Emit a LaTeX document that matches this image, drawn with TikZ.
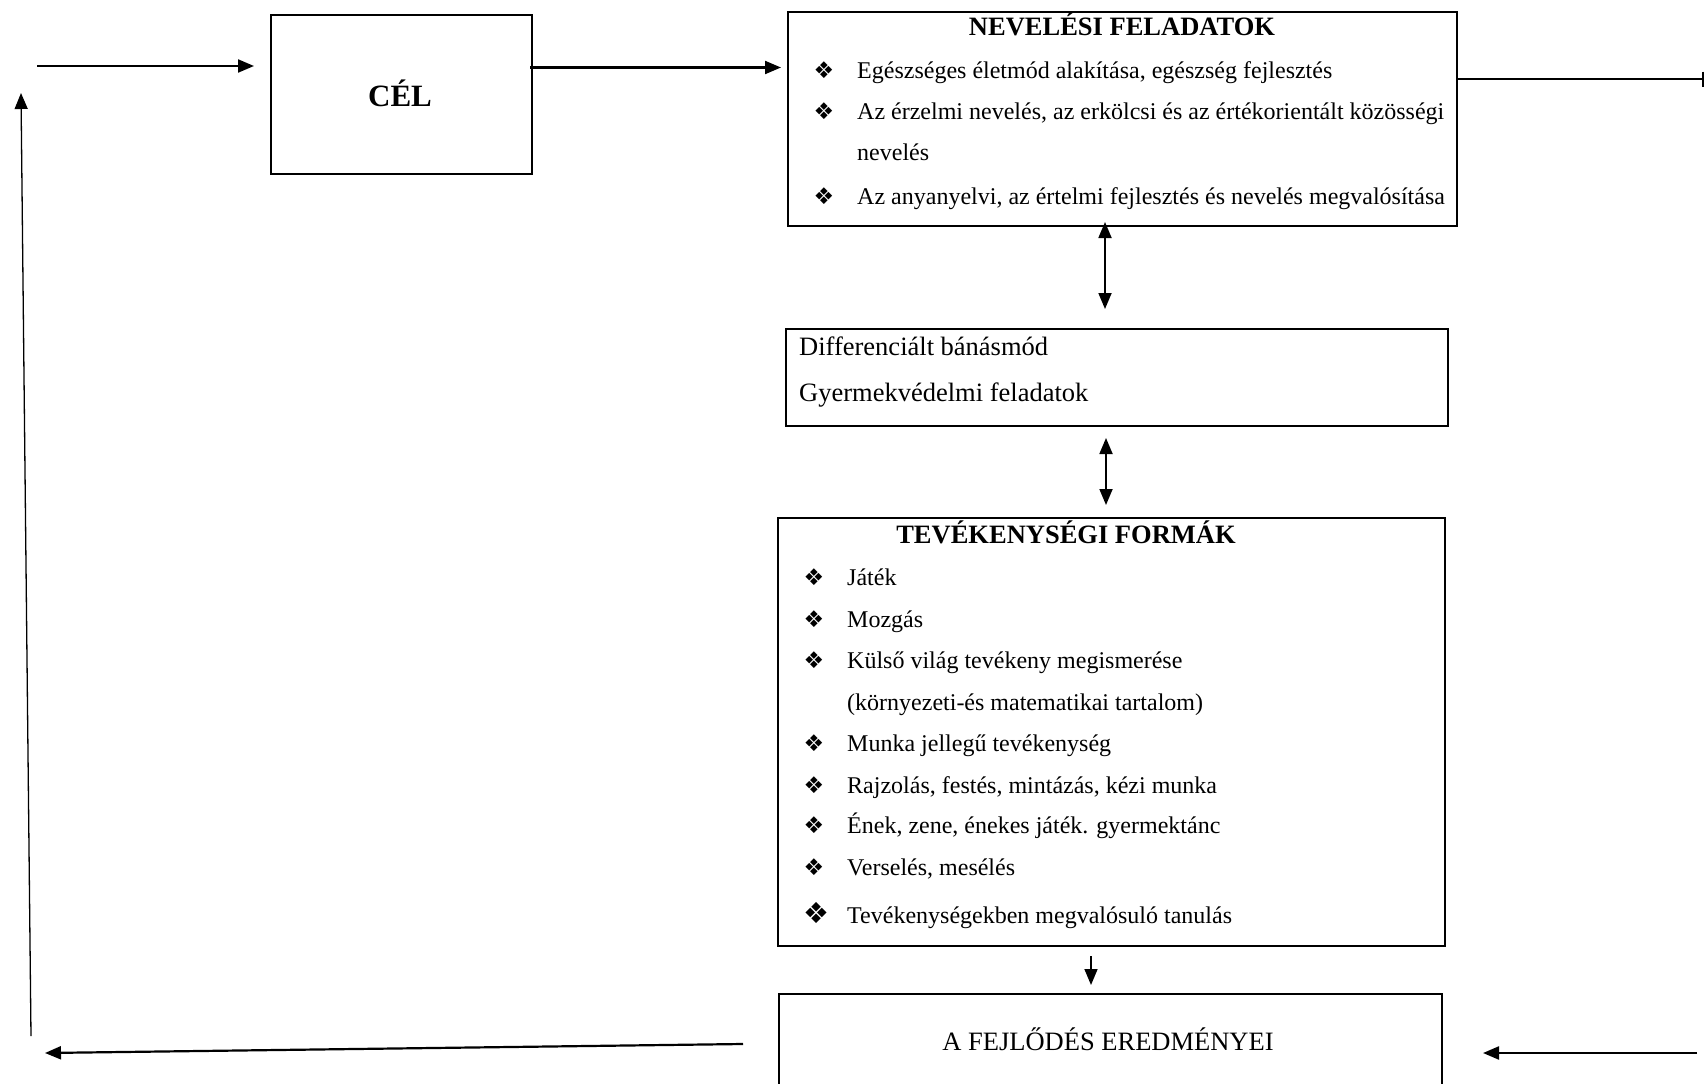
\documentclass[tikz,border=0pt]{standalone}
\usepackage{fontspec}
\setmainfont{Liberation Serif}
\newfontfamily\dejavu{DejaVu Sans}
\usetikzlibrary{arrows.meta,calc}
\newcommand{\bodyfont}{\fontsize{26.5}{30}\selectfont}
\newcommand{\itemfont}{\fontsize{24}{28}\selectfont}
\tikzset{
  box/.style={draw, line width=2pt, rectangle, inner sep=0pt, anchor=north west},
  txt/.style={anchor=base west, inner sep=0pt, font=\bodyfont},
  itm/.style={anchor=base west, inner sep=0pt, font=\itemfont},
  ttl/.style={anchor=base, inner sep=0pt, font=\bodyfont\bfseries},
  bul/.style={inner sep=0pt, font=\dejavu\fontsize{23}{23}\selectfont},
  bigbul/.style={inner sep=0pt, font=\dejavu\fontsize{29}{29}\selectfont},
  arr/.style={-{Triangle[length=16pt,width=13pt]}, line width=2.2pt},
  thinarr/.style={-{Triangle[length=16pt,width=13pt]}, line width=1.3pt},
  darr/.style={{Triangle[length=16pt,width=13pt]}-{Triangle[length=16pt,width=13pt]}, line width=1.8pt},
}
\begin{document}
\begin{tikzpicture}[x=1pt,y=-1pt]
\useasboundingbox (0,0) rectangle (1706,1084);
\clip (0,0) rectangle (1706,1084);

% boxes
\node[box, minimum width=261pt, minimum height=159pt] (cel) at (270,14) {};
\node[font=\fontsize{31}{34}\selectfont\bfseries, anchor=base, inner sep=0pt] (celt) at (400,106) {CÉL};

\node[box, minimum width=669pt, minimum height=214pt] (nev) at (787,11) {};
\node[ttl] (nevt) at (1122,35) {NEVELÉSI FELADATOK};
\node[bul] (nb1) at (824,70) {❖};
\node[itm] (n1) at (857,78) {Egészséges életmód alakítása, egészség fejlesztés};
\node[bul] (nb2) at (824,111) {❖};
\node[itm] (n2) at (857,119) {Az érzelmi nevelés, az erkölcsi és az értékorientált közösségi};
\node[itm] (n3) at (857,160) {nevelés};
\node[bul] (nb4) at (824,196) {❖};
\node[itm] (n4) at (857,204) {Az anyanyelvi, az értelmi fejlesztés és nevelés megvalósítása};

\node[box, minimum width=662pt, minimum height=97pt] (dif) at (785,328) {};
\node[txt] (d1) at (799,355) {Differenciált bánásmód};
\node[txt] (d2) at (799,401) {Gyermekvédelmi feladatok};

\node[box, minimum width=667pt, minimum height=428pt] (tev) at (777,517) {};
\node[ttl] (tevt) at (1066,543) {TEVÉKENYSÉGI FORMÁK};
\node[bul] (tb1) at (814,577) {❖};
\node[itm] (t1) at (847,585) {Játék};
\node[bul] (tb2) at (814,619) {❖};
\node[itm] (t2) at (847,627) {Mozgás};
\node[bul] (tb3) at (814,660) {❖};
\node[itm] (t3) at (847,668) {Külső világ tevékeny megismerése};
\node[itm] (t3b) at (847,710) {(környezeti-és matematikai tartalom)};
\node[bul] (tb4) at (814,743) {❖};
\node[itm] (t4) at (847,751) {Munka jellegű tevékenység};
\node[bul] (tb5) at (814,785) {❖};
\node[itm] (t5) at (847,793) {Rajzolás, festés, mintázás, kézi munka};
\node[bul] (tb6) at (814,825) {❖};
\node[itm] (t6) at (847,833) {Ének, zene, énekes játék. gyermektánc};
\node[bul] (tb7) at (814,867) {❖};
\node[itm] (t7) at (847,875) {Verselés, mesélés};
\node[bigbul] (tb8) at (816,913) {❖};
\node[itm] (t8) at (847,923) {Tevékenységekben megvalósuló tanulás};

\node[box, minimum width=663pt, minimum height=130pt] (res) at (778,993) {};
\node[ttl, font=\bodyfont] (rest) at (1108,1050) {A FEJLŐDÉS EREDMÉNYEI};

% free ends
\coordinate (in0) at (37,66);
\coordinate (lb) at (31,1036);
\coordinate (lt) at (21,93);
\coordinate (re) at (1704,79);
\coordinate (bl) at (45,1053);
\coordinate (br) at (1697,1053);

% connectors
\draw[arr, shorten >=16pt] (in0) -- (cel.west |- in0);
\draw[thinarr] (lb) -- (lt);
\draw[arr, shorten <=-3pt, shorten >=6pt] (cel.east |- 0,67.5) -- (nev.west |- 0,67.5);
\draw[line width=2pt, -{Bar[width=15pt,line width=2pt]}] (nev.east |- re) -- (re);
\draw[darr, shorten <=-5pt, shorten >=19pt] (nev.south -| 1105,0) -- (dif.north -| 1105,0);
\draw[darr, shorten <=11pt, shorten >=12pt] (dif.south -| 1106,0) -- (tev.north -| 1106,0);
\draw[arr, line width=1.6pt, shorten <=9pt, shorten >=8pt] (tev.south -| 1091,0) -- (res.north -| 1091,0);
\draw[arr] ($(res.west |- 0,1044)+(-35,0)$) -- (bl);
\draw[arr, shorten >=40pt] (br) -- (res.east |- br);
\end{tikzpicture}
\end{document}
